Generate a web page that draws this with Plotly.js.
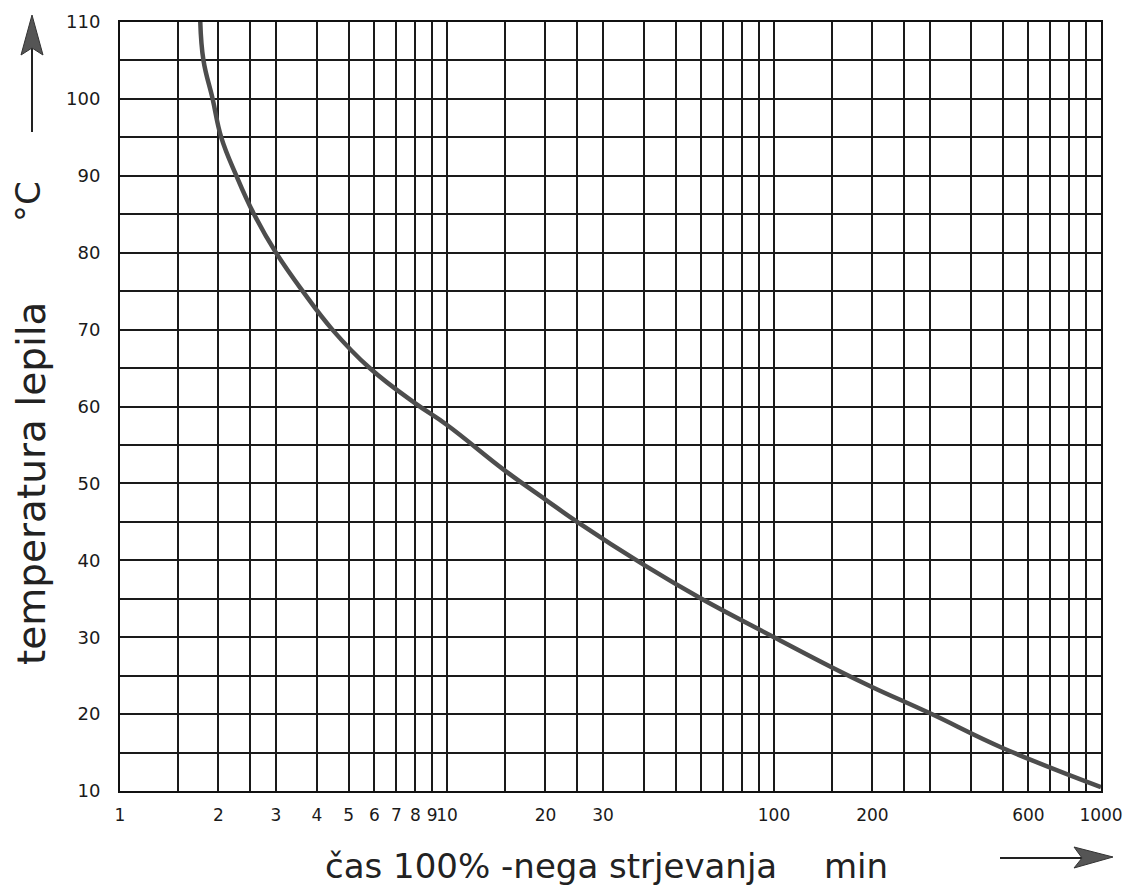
<!DOCTYPE html>
<html>
<head>
<meta charset="utf-8">
<script src="https://cdn.plot.ly/plotly-3.0.1.min.js"></script>
<style>html,body{margin:0;padding:0;background:#fff;}#chart{width:1125px;height:892px;}</style>
</head>
<body>
<div id="chart"></div>
<script>
// Curing time (min) vs glue temperature (°C)
const cureTimeMin = [1.76, 1.8, 1.92, 2.04, 2.27, 2.57, 3.0, 3.62, 4.46, 5.8, 8.0, 10, 15, 20, 25, 40, 60, 100, 150, 200, 300, 500, 1000];
const glueTempC   = [110, 105, 100, 95, 90, 85, 80, 75, 70, 65, 60.4, 57.6, 51.7, 47.9, 45, 39.4, 35, 30, 26.1, 23.5, 20.1, 15.6, 10.5];

// Grid / tick positions and labels
const xGridVals = [1,1.5,2,2.5,3,4,5,6,7,8,9,10,15,20,25,30,40,50,60,70,80,90,100,150,200,250,300,400,500,600,700,800,900,1000];
const xLabelVals = [1,2,3,4,5,6,7,8,9,10,20,30,100,200,600,1000];
const yGridVals = [10,15,20,25,30,35,40,45,50,55,60,65,70,75,80,85,90,95,100,105,110];
const yLabelVals = [10,20,30,40,50,60,70,80,90,100,110];

const xTickText = xGridVals.map(v => xLabelVals.includes(v) ? String(v) : '');
const yTickText = yGridVals.map(v => yLabelVals.includes(v) ? String(v) : '');

const trace = {
  x: cureTimeMin, y: glueTempC, type: 'scatter', mode: 'lines',
  line: {color: '#4d4d4d', width: 4.5, shape: 'spline', smoothing: 1.2},
  hoverinfo: 'x+y'
};

// pixel -> paper helpers for decorations (plot area 120..1101 x, 22..791 y)
const L = 120, R = 24, T = 22, B = 101, W = 1125, H = 892;
const pw = W - L - R, ph = H - T - B;
const px = x => (x - L) / pw;
const py = y => (H - B - y) / ph;

const layout = {
  width: W, height: H,
  margin: {l: L, r: R, t: T, b: B, pad: 0},
  paper_bgcolor: '#fff', plot_bgcolor: '#fff',
  showlegend: false,
  font: {family: 'DejaVu Sans, sans-serif', color: '#1a1a1a'},
  xaxis: {
    type: 'log', range: [0, 3],
    tickmode: 'array', tickvals: xGridVals, ticktext: xTickText,
    ticks: '', ticklabelstandoff: 8, tickangle: 0,
    tickfont: {size: 17, family: 'DejaVu Sans, sans-serif', color: '#1a1a1a'},
    showgrid: true, gridcolor: '#1a1a1a', gridwidth: 2,
    showline: true, linecolor: '#111', linewidth: 2, mirror: true,
    zeroline: false, fixedrange: true
  },
  yaxis: {
    range: [10, 110],
    tickmode: 'array', tickvals: yGridVals, ticktext: yTickText,
    ticks: '', ticklabelstandoff: 14,
    tickfont: {size: 18, family: 'DejaVu Sans, sans-serif', color: '#1a1a1a'},
    showgrid: true, gridcolor: '#1a1a1a', gridwidth: 2,
    showline: true, linecolor: '#111', linewidth: 2, mirror: true,
    zeroline: false, fixedrange: true
  },
  annotations: [
    {xref: 'paper', yref: 'paper', x: px(31), y: py(484), text: 'temperatura lepila', textangle: -90,
     showarrow: false, xanchor: 'center', yanchor: 'middle', font: {size: 39, color: '#222'}},
    {xref: 'paper', yref: 'paper', x: px(28), y: py(202), text: '°C', textangle: -90,
     showarrow: false, xanchor: 'center', yanchor: 'middle', font: {size: 34, color: '#222'}},
    {xref: 'paper', yref: 'paper', x: px(323), y: py(866), text: 'čas 100% -nega strjevanja', 
     showarrow: false, xanchor: 'left', yanchor: 'middle', font: {size: 34, color: '#222'}},
    {xref: 'paper', yref: 'paper', x: px(822), y: py(866), text: 'min',
     showarrow: false, xanchor: 'left', yanchor: 'middle', font: {size: 34, color: '#222'}}
  ],
  shapes: [
    // up arrow shaft
    {type: 'line', xref: 'paper', yref: 'paper', x0: px(32), x1: px(32), y0: py(132), y1: py(48),
     line: {color: '#222', width: 2}},
    // up arrow head
    {type: 'path', xref: 'paper', yref: 'paper',
     path: `M ${px(32)} ${py(15)} L ${px(21)} ${py(55)} L ${px(32)} ${py(48)} L ${px(43)} ${py(55)} Z`,
     fillcolor: '#555', line: {color: '#333', width: 1}},
    // right arrow shaft
    {type: 'line', xref: 'paper', yref: 'paper', x0: px(1000), x1: px(1082), y0: py(858), y1: py(858),
     line: {color: '#222', width: 2}},
    // right arrow head
    {type: 'path', xref: 'paper', yref: 'paper',
     path: `M ${px(1113)} ${py(857)} L ${px(1074)} ${py(847)} L ${px(1082)} ${py(858)} L ${px(1074)} ${py(868)} Z`,
     fillcolor: '#555', line: {color: '#333', width: 1}}
  ]
};

Plotly.newPlot('chart', [trace], layout, {displayModeBar: false, staticPlot: true});
</script>
</body>
</html>
